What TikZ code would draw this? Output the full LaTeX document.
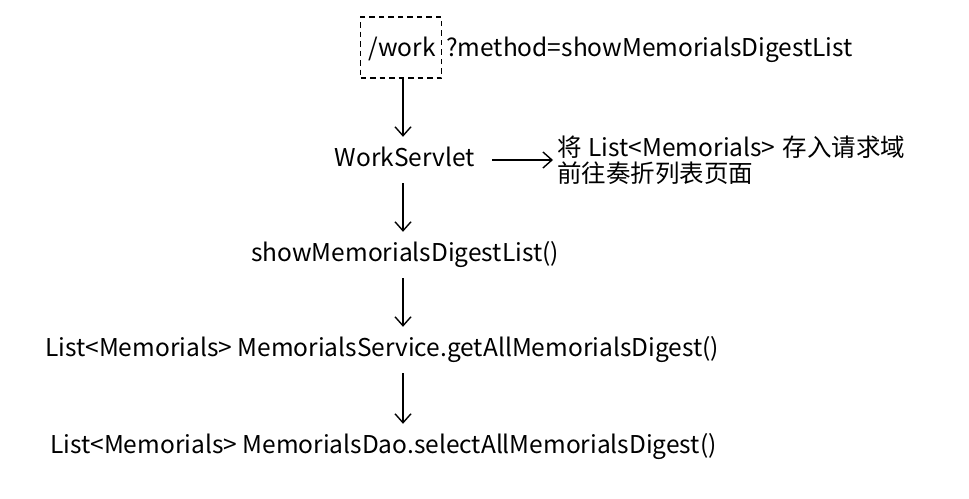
\documentclass[tikz,border=0pt]{standalone}
\usepackage{fontspec}
\setmainfont{Noto Sans CJK SC}
\usetikzlibrary{arrows.meta}
\tikzset{
  lbl/.style={inner sep=0pt, font=\fontsize{24.5}{28}\selectfont, text height=18pt, text depth=6pt, minimum height=46pt},
  arr/.style={line width=1.4pt, -{Straight Barb[length=9pt, width=16pt, line width=1.4pt]}},
  dbox/.style={draw, line width=1.2pt, dash pattern=on 5.5pt off 4pt, minimum width=81pt, minimum height=61pt, inner sep=0pt}
}
\begin{document}
\begin{tikzpicture}[x=1pt, y=-1pt]
\useasboundingbox (0,0) rectangle (969,498);
\node[dbox] (workbox) at (401,47.5) {};
\node[lbl] (work) at (402,50) {/work};
\node[lbl, anchor=west] (query) at (446,50) {?method=showMemorialsDigestList};
\node[lbl] (servlet) at (405,160) {WorkServlet};
\node[inner sep=0pt, anchor=west, align=left, font=\fontsize{24.5}{26}\selectfont] (note) at (557,160) {将\hspace{7pt}List<Memorials>\hspace{7pt}存入请求域\\前往奏折列表页面};
\node[lbl] (show) at (405,255) {showMemorialsDigestList()};
\node[lbl, anchor=west] (service) at (45,350) {List<Memorials> MemorialsService.getAllMemorialsDigest()};
\node[lbl, anchor=west] (dao) at (50,447) {List<Memorials> MemorialsDao.selectAllMemorialsDigest()};
\draw[arr] (workbox.south) ++(2,0) coordinate (a1) -- (a1 |- servlet.north);
\draw[arr] ([xshift=17pt]servlet.east) -- ([xshift=-4pt]note.west);
\draw[arr] (servlet.south -| a1) -- (a1 |- show.north);
\draw[arr] (show.south -| a1) -- (a1 |- service.north);
\draw[arr] (service.south -| a1) -- (a1 |- dao.north);
\end{tikzpicture}
\end{document}
